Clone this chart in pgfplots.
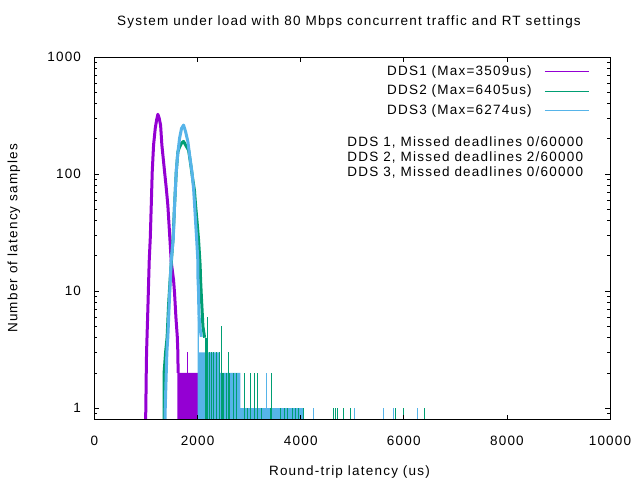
\documentclass[border=0pt]{standalone}
\usepackage{fontspec}
\setmainfont{Liberation Sans}[LetterSpace=9]
\usepackage{pgfplots}
\pgfplotsset{compat=1.18}
\definecolor{cA}{HTML}{9400D3}
\definecolor{cB}{HTML}{009E73}
\definecolor{cC}{HTML}{56B4E9}
\begin{document}
\fontsize{13.5bp}{16bp}\selectfont
\begin{tikzpicture}
\path[use as bounding box] (0,0) rectangle (640bp,480bp);
\begin{axis}[
  at={(94.5bp,60.5bp)}, anchor=south west,
  scale only axis, width=515.5bp, height=362.5bp,
  xmin=0, xmax=10000, ymode=log, ymin=0.8, ymax=1000,
  log origin y=infty,
  xtick={0,2000,4000,6000,8000,10000},
  xticklabels={0,2000,4000,6000,8000,10000},
  ytick={1,10,100,1000}, yticklabels={1,10,100,1000},
  minor ytick={0.9,2,3,4,5,6,7,8,9,20,30,40,50,60,70,80,90,200,300,400,500,600,700,800,900},
  scaled x ticks=false,
  tick align=inside,
  major tick length=4.7bp, minor tick length=3bp,
  every tick/.style={black, line width=0.8bp},
  axis line style={line width=1bp},
  axis on top,
  xticklabel style={yshift=-11.5bp},
  yticklabel style={xshift=-8.8bp},
  title={System under load with 80 Mbps concurrent traffic and RT settings},
  title style={at={(axis description cs:0.4937,1.0717)}, anchor=base, inner sep=0pt},
  xlabel={Round-trip latency (us)},
  xlabel style={at={(axis description cs:0.4946,-0.155)}, anchor=base, inner sep=0pt},
  ylabel={Number of latency samples},
  ylabel style={at={(axis description cs:-0.1562,0.5)}, anchor=center, inner sep=0pt},
  legend style={at={(axis description cs:0.9598,0.9766)}, anchor=north east, draw=none, fill=none,
     inner sep=0pt, outer sep=0pt, row sep=6.3bp, column sep=0pt,
     nodes={inner sep=0pt, text height=10bp, text depth=3bp}},
  legend cell align=right,
  legend plot pos=right,
  legend image code/.code={\path[draw=none,fill=none] (0bp,-1bp) rectangle (57bp,1bp); \draw[#1, line width=1bp] (13bp,0bp) -- (57bp,0bp);},
]
% ---------------- DDS1 ----------------
\addplot[cA, line width=3bp, line join=round] coordinates {
(984,0.5) (996,1.03) (1004,2) (1010,3) (1035,7) (1049,11.6) (1062,18.4) (1082,28.4)
(1101,54) (1120,105) (1146,177) (1179,247) (1205,290) (1229,324) (1255,300) (1282,262)
(1307,177) (1359,105) (1392,76) (1423,54) (1462,28.2) (1489,17.8) (1501,16.1) (1534,12.4)
(1553,9.6) (1579,6) (1606,4.07) (1617,3) (1622,2)
};
\addlegendentry{DDS1 (Max=3509us)}
\addplot[fill=cA, draw=none, forget plot] coordinates {
(1606,2) (2039,2) (2039,1) (2103,1)
} \closedcycle;
\addplot[ycomb, cA, line width=1bp, forget plot] coordinates {
(1812,3) (2122,1) (3509,1)
};
% ---------------- DDS2 ----------------
\addplot[cB, line width=3bp, line join=round] coordinates {
(1350,0.5) (1350,2) (1379,3) (1408,4) (1437,7.6) (1466,12.4) (1495,19) (1524,28)
(1553,54) (1586,104) (1617,154) (1650,170) (1689,184) (1728,190) (1767,177) (1825,160)
(1864,123) (1903,92) (1938,73) (1961,54) (1990,39) (2019,27.3) (2049,16.6) (2058,12.4)
(2072,9.2) (2087,6.9) (2103,5) (2136,4)
};
\addlegendentry{DDS2 (Max=6405us)}
% ---------------- DDS3 ----------------
\addplot[cC, line width=3bp, line join=round] coordinates {
(1359,0.5) (1373,1.03) (1392,2) (1404,3) (1423,4.07) (1450,7.85) (1470,12.4) (1489,18.4)
(1528,28.2) (1553,54) (1586,105) (1612,145) (1650,202) (1689,246) (1728,262) (1767,230)
(1812,189) (1845,145) (1889,105) (1922,75) (1942,54) (1961,39) (1981,28.2) (2006,17.8)
(2006,13.2) (2019,9.6) (2025,6.45) (2045,4.95) (2072,4.07)
};
\addlegendentry{DDS3 (Max=6274us)}
\addplot[fill=cC, draw=none, forget plot] coordinates {
(2000,6) (2025,6) (2025,3) (2427,3) (2427,2) (2829,2) (2829,1) (4045,1)
} \closedcycle;
\addplot[ycomb, cC, line width=1bp, forget plot] coordinates {
(3334,2) (4239,1) (5035,1) (5598,1) (5792,1) (6274,1)
};
% ---------------- DDS2 tail ----------------
\addplot[ycomb, cB, line width=1bp, forget plot] coordinates {
(2150,4) (2170,4) (2185,6) (2200,3) (2233,3) (2266,3) (2311,3) (2363,3) (2427,3)
(2472,5) (2596,3)
(2480,2) (2511,2) (2557,2) (2621,2) (2693,2) (2705,2) (2751,2) (2919,2) (3023,2)
(3113,2) (3171,2) (3443,2)
(2977,1) (3237,1) (3417,1) (3606,1) (3676,1) (3753,1) (3850,1) (3903,1) (3955,1)
(4045,1) (4627,1) (4674,1) (4718,1) (4821,1) (4957,1) (5831,1) (5986,1) (6405,1)
};
\node[anchor=base east, inner sep=0pt] at (rel axis cs:0.9482,0.7537) {DDS 1, Missed deadlines 0/60000};
\node[anchor=base east, inner sep=0pt] at (rel axis cs:0.9482,0.7123) {DDS 2, Missed deadlines 2/60000};
\node[anchor=base east, inner sep=0pt] at (rel axis cs:0.9482,0.6709) {DDS 3, Missed deadlines 0/60000};
\end{axis}
\end{tikzpicture}
\end{document}
